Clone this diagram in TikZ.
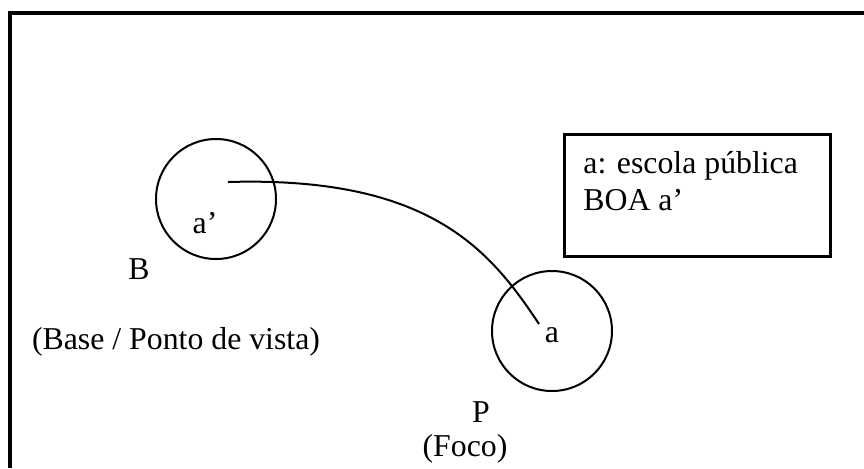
\documentclass[tikz,border=0pt]{standalone}
\usepackage{fontspec}
\setmainfont{Liberation Serif}

\begin{document}
\begin{tikzpicture}[
    x=0.5pt, y=-0.5pt,
    every node/.style={font=\fontsize{15.9}{18.5}\selectfont},
    region/.style={circle, draw, line width=1pt, minimum size=60pt, inner sep=0pt},
    lbl/.style={anchor=base, inner sep=0pt},
    legendbox/.style={draw, line width=1.5pt, minimum width=133pt, minimum height=61pt, anchor=north west, inner sep=0pt},
    link/.style={line width=1pt}
]
    \useasboundingbox (0,0) rectangle (864,468);
    % outer frame
    \draw[line width=1.75pt] (10,468) -- (10,13) -- (864,13);

    \node[region] (base) at (216,199) {};
    \node[region] (focus) at (552,331) {};

    \node[lbl] (aprime) at (205,233) {a’};
    \node[lbl] (blbl) at (139,279) {B};
    \node[lbl] (bdesc) at (176,349) {(Base / Ponto de vista)};
    \node[lbl] (alabel) at (552,342) {a};
    \node[lbl] (plbl) at (481,422) {P};
    \node[lbl] (pdesc) at (465,456) {(Foco)};

    % legend
    \node[legendbox] (legend) at (563,133) {};
    \node[anchor=base west, align=left, inner sep=0pt] (legendtxt) at (583,210) {a: escola pública\\BOA a’};

    \coordinate (start) at (228,182);
    \coordinate (stop) at (539,324);
    \draw[link] (start) .. controls (430,176) and (490,250) .. (stop);
\end{tikzpicture}
\end{document}
